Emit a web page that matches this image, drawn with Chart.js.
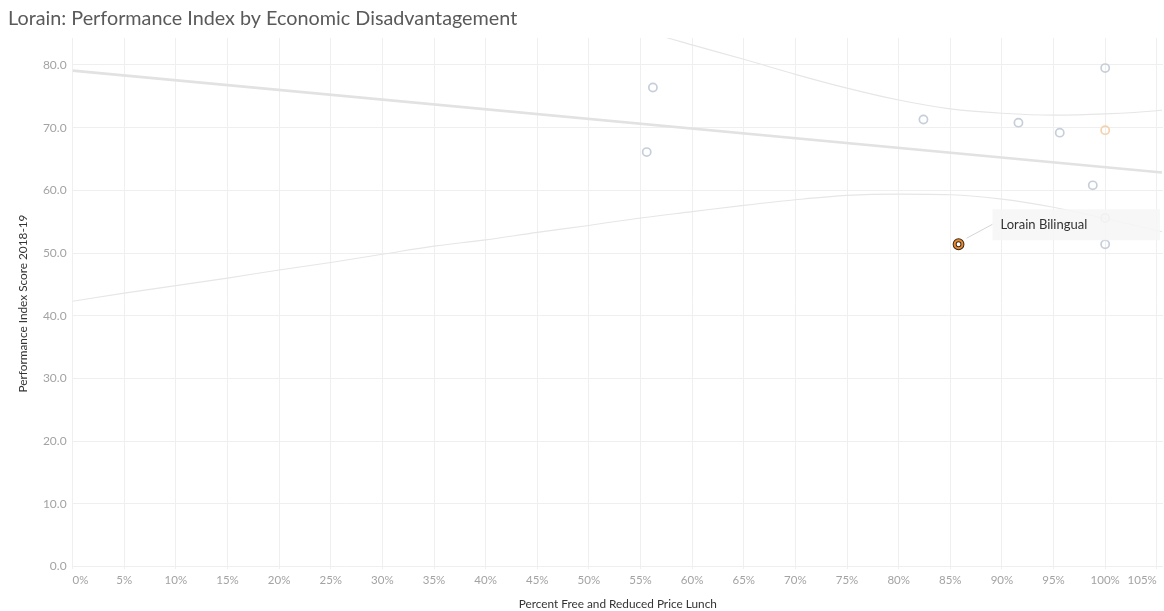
<!DOCTYPE html>
<html>
<head>
<meta charset="utf-8">
<script src="https://cdn.jsdelivr.net/npm/chart.js@4/dist/chart.umd.min.js"></script>
<style>
  html, body { margin: 0; padding: 0; background: #fff; overflow: hidden; }
  #c { display: block; }
</style>
</head>
<body>
<canvas id="c" width="1164" height="611"></canvas>
<script>
// ---- data ----
const chartTitle = 'Lorain: Performance Index by Economic Disadvantagement';
const xAxisTitle = 'Percent Free and Reduced Price Lunch';
const yAxisTitle = 'Performance Index Score 2018-19';

const xTicks = [0, 5, 10, 15, 20, 25, 30, 35, 40, 45, 50, 55, 60, 65, 70, 75, 80, 85, 90, 95, 100, 105];
const yTicks = [0, 10, 20, 30, 40, 50, 60, 70, 80];

// other schools (percent FRL, performance index)
const otherFRL   = [56.2, 55.6, 82.4, 91.6, 95.6, 100, 98.8, 100, 100];
const otherScore = [76.4, 66.1, 71.3, 70.8, 69.2, 79.5, 60.8, 55.6, 51.4];

// faint orange school
const faintFRL   = [100];
const faintScore = [69.6];

// highlighted school
const highlightName  = 'Lorain Bilingual';
const highlightFRL   = [85.8];
const highlightScore = [51.4];

// trend line end points
const trendFRL   = [0, 105.5];
const trendScore = [79.1, 62.85];

// confidence bands
const upperFRL   = [50, 55, 60, 65, 70, 75, 80, 85, 90, 95, 100, 105, 105.5];
const upperScore = [88.4, 85.6, 83.2, 80.9, 78.5, 76.3, 74.4, 73.0, 72.3, 72.0, 72.2, 72.7, 72.8];
const lowerFRL   = [0, 5, 10, 15, 20, 25, 30, 35, 40, 45, 50, 55, 60, 65, 70, 75, 80, 85, 90, 95, 100, 105, 105.5];
const lowerScore = [42.3, 43.6, 44.8, 46.0, 47.3, 48.5, 49.8, 51.1, 52.1, 53.3, 54.4, 55.6, 56.6, 57.6, 58.5, 59.2, 59.4, 59.3, 58.6, 57.3, 55.5, 53.6, 53.4];

const pts = (xs, ys) => xs.map((x, i) => ({ x: x, y: ys[i] }));

const FONT = 'Lato, "Open Sans", "DejaVu Sans", sans-serif';

const titlePlugin = {
  id: 'titleText',
  afterDraw(chart) {
    const ctx = chart.ctx;
    ctx.save();
    ctx.font = '19.8px ' + FONT;
    ctx.fillStyle = '#5a5a5a';
    ctx.textBaseline = 'middle';
    ctx.textAlign = 'left';
    ctx.fillText(chartTitle, 8, 19);
    ctx.restore();
  }
};

const labelPlugin = {
  id: 'markLabel',
  afterDatasetsDraw(chart) {
    const ctx = chart.ctx;
    const xs = chart.scales.x, ys = chart.scales.y;
    const px = xs.getPixelForValue(highlightFRL[0]);
    const py = ys.getPixelForValue(highlightScore[0]);
    const area = chart.chartArea;
    ctx.save();
    // connector
    ctx.strokeStyle = '#d4d4d4';
    ctx.lineWidth = 1;
    ctx.beginPath();
    ctx.moveTo(px + 8, py - 6);
    ctx.lineTo(px + 34, py - 20);
    ctx.stroke();
    // label box
    const bx = px + 34, by = py - 35, bw = area.right - 3 - bx, bh = 31;
    ctx.fillStyle = 'rgba(246,246,246,0.88)';
    ctx.fillRect(bx, by, bw, bh);
    ctx.font = '13px ' + FONT;
    ctx.fillStyle = '#333333';
    ctx.textBaseline = 'middle';
    ctx.textAlign = 'left';
    ctx.fillText(highlightName, bx + 8, by + 16);
    ctx.restore();
  }
};

new Chart(document.getElementById('c'), {
  type: 'scatter',
  data: {
    datasets: [
      { label: highlightName, data: pts(highlightFRL, highlightScore), pointRadius: 3.9, pointBorderWidth: 2.0, pointBorderColor: '#e8892f', pointBackgroundColor: 'rgba(0,0,0,0)', order: 0 },
      { label: highlightName + ' outline', data: pts(highlightFRL, highlightScore), pointRadius: 3.9, pointBorderWidth: 4.0, pointBorderColor: '#3a2a1e', pointBackgroundColor: 'rgba(0,0,0,0)', order: 1 },
      { label: 'Faint', data: pts(faintFRL, faintScore), pointRadius: 4.1, pointBorderWidth: 1.7, pointBorderColor: '#f3d3ae', pointBackgroundColor: 'rgba(0,0,0,0)', order: 2 },
      { label: 'Schools', data: pts(otherFRL, otherScore), pointRadius: 4.1, pointBorderWidth: 1.7, pointBorderColor: '#c6cfd9', pointBackgroundColor: 'rgba(0,0,0,0)', order: 3 },
      { label: 'Trend', type: 'line', data: pts(trendFRL, trendScore), borderColor: '#e2e2e2', borderWidth: 2.6, pointRadius: 0, fill: false, order: 4 },
      { label: 'Upper', type: 'line', data: pts(upperFRL, upperScore), borderColor: '#e6e6e6', borderWidth: 1.1, pointRadius: 0, cubicInterpolationMode: 'monotone', fill: false, order: 5 },
      { label: 'Lower', type: 'line', data: pts(lowerFRL, lowerScore), borderColor: '#e6e6e6', borderWidth: 1.1, pointRadius: 0, cubicInterpolationMode: 'monotone', fill: false, order: 6 }
    ]
  },
  options: {
    responsive: false,
    animation: false,
    events: [],
    layout: { autoPadding: false, padding: { top: 38, left: 0, right: 1, bottom: 0 } },
    plugins: { legend: { display: false }, tooltip: { enabled: false }, title: { display: false } },
    scales: {
      x: {
        type: 'linear', min: 0, max: 105.6,
        afterBuildTicks: s => { s.ticks = xTicks.map(v => ({ value: v })); },
        afterFit: s => { s.height = 42; s.paddingLeft = 0; s.paddingRight = 0; },
        grid: { color: '#efefef', lineWidth: 1, drawTicks: false },
        border: { display: false },
        ticks: { align: 'inner', padding: 4, color: '#a3a3a3', font: { family: FONT, size: 11.5 }, callback: v => v + '%' },
        title: { display: true, text: xAxisTitle, color: '#333333', font: { family: FONT, size: 11.8 }, padding: { top: 0, bottom: 0 } }
      },
      y: {
        type: 'linear', min: -0.4, max: 84.3,
        afterBuildTicks: s => { s.ticks = yTicks.map(v => ({ value: v })); },
        afterFit: s => { s.width = 72.6; s.paddingTop = 0; s.paddingBottom = 0; },
        grid: { color: '#efefef', lineWidth: 1, drawTicks: false },
        border: { display: false },
        ticks: { padding: 6, color: '#a3a3a3', font: { family: FONT, size: 12 }, callback: v => v.toFixed(1) },
        title: { display: true, text: yAxisTitle, color: '#333333', font: { family: FONT, size: 11.8 }, padding: { top: 16, bottom: 0 } }
      }
    }
  },
  plugins: [titlePlugin, labelPlugin]
});
</script>
</body>
</html>
